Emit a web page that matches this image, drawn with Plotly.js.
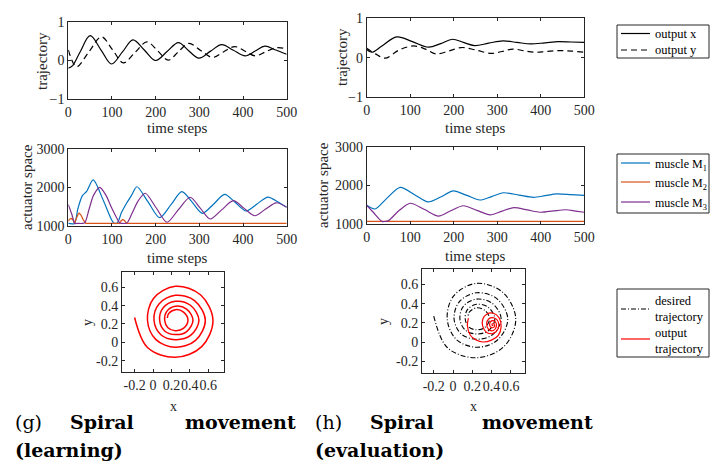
<!DOCTYPE html>
<html>
<head>
<meta charset="utf-8">
<script src="https://cdn.plot.ly/plotly-3.0.1.min.js"></script>
<style>html,body{margin:0;padding:0;background:#fff;}#chart{width:717px;height:461px;}</style>
</head>
<body>
<div id="chart"></div>
<script>
// ---------------- DATA ----------------
// (g) learning: trajectory
const learnXt = [0, 10, 27, 50, 75, 99, 124, 148, 174, 200, 226, 252, 275, 299, 325, 351, 378, 405, 428, 450, 475, 500];
const learnX  = [-0.2, -0.13, 0.22, 0.64, 0.27, -0.09, 0.22, 0.53, 0.27, 0.0, 0.23, 0.46, 0.26, 0.06, 0.235, 0.41, 0.265, 0.12, 0.245, 0.37, 0.27, 0.16];
const learnYt = [0, 19, 47, 76, 101, 126, 153, 180, 205, 229, 252, 276, 303, 330, 355, 381, 405, 428, 452, 477, 500];
const learnY  = [0.27, -0.16, 0.22, 0.61, 0.28, -0.06, 0.21, 0.48, 0.245, 0.01, 0.225, 0.44, 0.26, 0.08, 0.22, 0.36, 0.24, 0.12, 0.225, 0.33, 0.3];
// (h) evaluation: trajectory
const evalXt = [0, 12, 35, 69, 105, 142, 170, 197, 222, 248, 280, 313, 345, 377, 410, 440, 470, 500];
const evalX  = [0.21, 0.14, 0.3, 0.53, 0.41, 0.27, 0.36, 0.47, 0.39, 0.31, 0.37, 0.43, 0.39, 0.35, 0.38, 0.41, 0.4, 0.39];
const evalYt = [0, 20, 42, 75, 108, 135, 159, 188, 217, 250, 286, 311, 336, 361, 386, 413, 440, 470, 500];
const evalY  = [0.24, 0.1, -0.01, 0.2, 0.3, 0.22, 0.1, 0.17, 0.26, 0.2, 0.11, 0.16, 0.22, 0.18, 0.14, 0.16, 0.18, 0.17, 0.14];
// (g) learning: actuator space
const learnM1t = [0, 14, 22, 32, 42, 57, 81, 104, 112, 122, 133, 145, 157, 183, 209, 235, 260, 284, 307, 333, 358, 383, 407, 432, 457, 480, 500];
const learnM1  = [1060, 1060, 1450, 1780, 1900, 2200, 1640, 1070, 1070, 1350, 1580, 1800, 2020, 1615, 1210, 1550, 1890, 1610, 1325, 1570, 1820, 1600, 1385, 1570, 1750, 1620, 1480];
const learnM2t = [0, 3, 7, 11, 14, 18, 22, 25, 29, 34, 40, 118, 121, 125, 129, 133, 500];
const learnM2  = [1120, 1170, 1190, 1150, 1060, 1180, 1290, 1330, 1280, 1160, 1060, 1060, 1130, 1165, 1130, 1060, 1060];
const learnM3t = [0, 8, 15, 20, 33, 38, 48, 58, 72, 86, 100, 118, 123, 130, 135, 145, 160, 176, 201, 226, 252, 279, 302, 325, 351, 378, 402, 427, 451, 476, 500];
const learnM3  = [1550, 1300, 1060, 1060, 1060, 1080, 1450, 1800, 2005, 1800, 1450, 1070, 1060, 1060, 1080, 1300, 1650, 1850, 1470, 1090, 1420, 1745, 1460, 1175, 1415, 1655, 1460, 1260, 1430, 1600, 1480];
// (h) evaluation: actuator space
const evalM1t = [0, 19, 45, 77, 110, 141, 170, 199, 230, 260, 287, 314, 350, 383, 410, 437, 470, 500];
const evalM1  = [1480, 1385, 1650, 1950, 1760, 1570, 1700, 1860, 1740, 1620, 1710, 1810, 1750, 1690, 1735, 1780, 1760, 1740];
const evalM2t = [0, 500];
const evalM2  = [1060, 1060];
const evalM3t = [0, 15, 35, 42, 50, 75, 100, 133, 165, 193, 222, 253, 284, 311, 338, 369, 400, 429, 458, 480, 500];
const evalM3  = [1480, 1300, 1060, 1060, 1080, 1350, 1535, 1370, 1200, 1340, 1470, 1350, 1230, 1330, 1420, 1360, 1300, 1335, 1365, 1330, 1300];
// desired spiral (x, y)
const spiralX = [-0.2, -0.057, 0.243, 0.530, 0.652, 0.519, 0.243, 0.005, -0.06, 0.032, 0.243, 0.463, 0.569, 0.455, 0.243, 0.065, 0.011, 0.086, 0.243, 0.408, 0.5, 0.407, 0.243, 0.109, 0.072, 0.127, 0.243, 0.366, 0.435, 0.365, 0.243, 0.148, 0.127, 0.162, 0.243, 0.331, 0.38, 0.332, 0.243, 0.170, 0.156];
const spiralY = [0.27, -0.06, -0.164, -0.047, 0.24, 0.516, 0.611, 0.478, 0.24, 0.029, -0.055, 0.021, 0.24, 0.452, 0.513, 0.419, 0.24, 0.083, 0.029, 0.075, 0.24, 0.404, 0.447, 0.374, 0.24, 0.124, 0.084, 0.117, 0.24, 0.362, 0.393, 0.335, 0.24, 0.159, 0.127, 0.152, 0.24, 0.329, 0.356, 0.313, 0.265];
// evaluation output spiral
const evalOutX = [0.16, 0.15, 0.18, 0.24, 0.31, 0.40, 0.47, 0.50, 0.48, 0.42, 0.35, 0.31, 0.31, 0.35, 0.42, 0.47, 0.47, 0.43, 0.37, 0.35, 0.37, 0.42, 0.45, 0.44, 0.40, 0.38, 0.40, 0.43, 0.425, 0.405, 0.41];
const evalOutY = [0.25, 0.17, 0.07, 0.02, 0.0, 0.02, 0.07, 0.16, 0.25, 0.30, 0.29, 0.24, 0.16, 0.10, 0.09, 0.14, 0.21, 0.25, 0.24, 0.19, 0.13, 0.12, 0.16, 0.21, 0.22, 0.18, 0.15, 0.16, 0.19, 0.185, 0.17];
// tick labels and legend labels
const timeTicks = [0, 100, 200, 300, 400, 500];
const trajTicks = [-1, 0, 1];
const actTicks = [1000, 2000, 3000];
const spiralTicks = [-0.2, 0, 0.2, 0.4, 0.6];
const spiralTickText = ['-0.2', '0', '0.2', '0.4', '0.6'];
const trajNames = ['output x', 'output y'];
const muscleNames = ['muscle M<sub>1</sub>', 'muscle M<sub>2</sub>', 'muscle M<sub>3</sub>'];
const spiralNames = ['desired<br>trajectory', 'output<br>trajectory'];

// ---------------- LAYOUT HELPERS ----------------
const W = 717, H = 461;
const dx = (a, b) => [a / W, b / W];
const dy = (t, b) => [1 - b / H, 1 - t / H];
const SERIF = '"Liberation Serif", "Times New Roman", serif';
const INK = '#262626';
const C1 = '#0072BD', C2 = '#D95319', C3 = '#7E2F8E';
const DASH = '6px,4px', DASHDOT = '5px,2px,1px,2px';

function ax(domain, range, tickvals, anchor, ticktext) {
  const a = {
    domain: domain, range: range, tickmode: 'array', tickvals: tickvals,
    anchor: anchor, showgrid: false, zeroline: false,
    showline: true, linecolor: INK, linewidth: 1, mirror: 'allticks',
    ticks: 'inside', ticklen: 3, tickcolor: INK, tickwidth: 1,
    tickfont: {family: SERIF, size: 14, color: INK}, tickangle: 0,
    fixedrange: true
  };
  if (ticktext) a.ticktext = ticktext;
  return a;
}

const lineK = {color: '#000', width: 1.2};
const traces = [
  {x: learnXt, y: learnX, xaxis: 'x', yaxis: 'y', mode: 'lines', name: trajNames[0], line: Object.assign({shape: 'spline'}, lineK)},
  {x: learnYt, y: learnY, xaxis: 'x', yaxis: 'y', mode: 'lines', name: trajNames[1], line: Object.assign({shape: 'spline', dash: DASH}, lineK)},
  {x: evalXt, y: evalX, xaxis: 'x2', yaxis: 'y2', mode: 'lines', name: trajNames[0], line: Object.assign({shape: 'spline'}, lineK)},
  {x: evalYt, y: evalY, xaxis: 'x2', yaxis: 'y2', mode: 'lines', name: trajNames[1], line: Object.assign({shape: 'spline', dash: DASH}, lineK)},

  {x: learnM1t, y: learnM1, xaxis: 'x3', yaxis: 'y3', mode: 'lines', name: muscleNames[0], line: {color: C1, width: 1.2, shape: 'spline', smoothing: 0.8}},
  {x: learnM2t, y: learnM2, xaxis: 'x3', yaxis: 'y3', mode: 'lines', name: muscleNames[1], line: {color: C2, width: 1.2}},
  {x: learnM3t, y: learnM3, xaxis: 'x3', yaxis: 'y3', mode: 'lines', name: muscleNames[2], line: {color: C3, width: 1.2, shape: 'spline', smoothing: 0.8}},
  {x: evalM1t, y: evalM1, xaxis: 'x4', yaxis: 'y4', mode: 'lines', name: muscleNames[0], line: {color: C1, width: 1.2, shape: 'spline', smoothing: 0.8}},
  {x: evalM2t, y: evalM2, xaxis: 'x4', yaxis: 'y4', mode: 'lines', name: muscleNames[1], line: {color: C2, width: 1.2}},
  {x: evalM3t, y: evalM3, xaxis: 'x4', yaxis: 'y4', mode: 'lines', name: muscleNames[2], line: {color: C3, width: 1.2, shape: 'spline', smoothing: 0.8}},

  {x: spiralX, y: spiralY, xaxis: 'x5', yaxis: 'y5', mode: 'lines', name: spiralNames[1], line: {color: '#ff0000', width: 1.5, shape: 'spline'}},
  {x: spiralX, y: spiralY, xaxis: 'x6', yaxis: 'y6', mode: 'lines', name: spiralNames[0], line: {color: '#000', width: 1.1, shape: 'spline', dash: DASHDOT}},
  {x: evalOutX, y: evalOutY, xaxis: 'x6', yaxis: 'y6', mode: 'lines', name: spiralNames[1], line: {color: '#ff0000', width: 1.2, shape: 'spline'}}
];

function ann(text, px, py, opts) {
  return Object.assign({text: text, xref: 'paper', yref: 'paper', x: px / W, y: 1 - py / H,
    xanchor: 'center', yanchor: 'middle', showarrow: false,
    font: {family: SERIF, size: 15, color: INK}}, opts || {});
}
const CAP = {family: 'DejaVu Serif, serif', size: 19, color: '#000'};
const LEGF = {family: SERIF, size: 12.5, color: '#000'};
const LEGF2 = {family: SERIF, size: 12, color: '#000'};

// legend boxes drawn as shapes + text
const shapes = [];
const legendAnns = [];
function legendBox(top, bottom, items, font) {
  shapes.push({type: 'rect', xref: 'paper', yref: 'paper', x0: 617 / W, x1: 709 / W,
    y0: 1 - bottom / H, y1: 1 - top / H, line: {color: INK, width: 1}, fillcolor: '#fff', layer: 'above'});
  items.forEach(it => {
    shapes.push({type: 'line', xref: 'paper', yref: 'paper', x0: 621 / W, x1: 650 / W,
      y0: 1 - it.y / H, y1: 1 - it.y / H, line: {color: it.color, width: it.width || 1.2, dash: it.dash || 'solid'}, layer: 'above'});
    legendAnns.push(ann(it.text, 654, it.ty || it.y, {xanchor: 'left', align: 'left', font: font || LEGF, borderpad: 0}));
  });
}
legendBox(25, 58, [
  {y: 33.5, text: trajNames[0], color: '#000'},
  {y: 50, text: trajNames[1], color: '#000', dash: DASH}
]);
legendBox(154, 213, [
  {y: 163, ty: 165, text: muscleNames[0], color: C1},
  {y: 182, ty: 184, text: muscleNames[1], color: C2},
  {y: 202, ty: 204, text: muscleNames[2], color: C3}
], LEGF2);
legendBox(289, 357, [
  {y: 309, text: spiralNames[0], color: '#000', dash: DASHDOT, width: 1.1},
  {y: 339, ty: 341, text: spiralNames[1], color: '#ff0000'}
]);

const layout = {
  width: W, height: H, margin: {l: 0, r: 0, t: 0, b: 0},
  paper_bgcolor: '#fff', plot_bgcolor: '#fff', showlegend: false,
  xaxis: ax(dx(68.3, 286.7), [0, 500], timeTicks, 'y'),
  yaxis: ax(dy(21.7, 99.3), [-1, 1], trajTicks, 'x'),
  xaxis2: ax(dx(366.7, 584.3), [0, 500], timeTicks, 'y2'),
  yaxis2: ax(dy(18.3, 97.3), [-1, 1], trajTicks, 'x2'),
  xaxis3: ax(dx(68.3, 286.7), [0, 500], timeTicks, 'y3'),
  yaxis3: ax(dy(149.3, 225.7), [1000, 3000], actTicks, 'x3'),
  xaxis4: ax(dx(366.7, 584.3), [0, 500], timeTicks, 'y4'),
  yaxis4: ax(dy(147.3, 223.7), [1000, 3000], actTicks, 'x4'),
  xaxis5: ax(dx(122, 224), [-0.337, 0.772], spiralTicks, 'y5', spiralTickText),
  yaxis5: ax(dy(272, 372), [-0.324, 0.767], spiralTicks, 'x5', spiralTickText),
  xaxis6: ax(dx(422, 525.3), [-0.322, 0.751], spiralTicks, 'y6', spiralTickText),
  yaxis6: ax(dy(268.7, 373), [-0.323, 0.764], spiralTicks, 'x6', spiralTickText),
  shapes: shapes,
  annotations: [
    ann('trajectory', 42, 61, {textangle: -90}),
    ann('time steps', 177, 128),
    ann('trajectory', 342, 57, {textangle: -90}),
    ann('time steps', 475, 128),
    ann('actuator space', 27, 187, {textangle: -90}),
    ann('time steps', 177, 258),
    ann('actuator space', 323, 185, {textangle: -90}),
    ann('time steps', 475, 256),
    ann('y', 87, 323, {textangle: -90, font: {family: SERIF, size: 14, color: INK}}),
    ann('x', 173, 406, {font: {family: SERIF, size: 14, color: INK}}),
    ann('y', 383, 322, {textangle: -90, font: {family: SERIF, size: 14, color: INK}}),
    ann('x', 473, 406, {font: {family: SERIF, size: 14, color: INK}}),
    ann('(g)', 13, 422, {xanchor: 'left', font: CAP}),
    ann('<b>Spiral</b>', 68, 422, {xanchor: 'left', font: CAP}),
    ann('<b>movement</b>', 298, 422, {xanchor: 'right', font: CAP}),
    ann('<b>(learning)</b>', 13, 450, {xanchor: 'left', font: CAP}),
    ann('(h)', 313, 422, {xanchor: 'left', font: CAP}),
    ann('<b>Spiral</b>', 368, 422, {xanchor: 'left', font: CAP}),
    ann('<b>movement</b>', 595, 422, {xanchor: 'right', font: CAP}),
    ann('<b>(evaluation)</b>', 313, 450, {xanchor: 'left', font: CAP})
  ].concat(legendAnns)
};

Plotly.newPlot('chart', traces, layout, {staticPlot: true, displayModeBar: false});
</script>
</body>
</html>
